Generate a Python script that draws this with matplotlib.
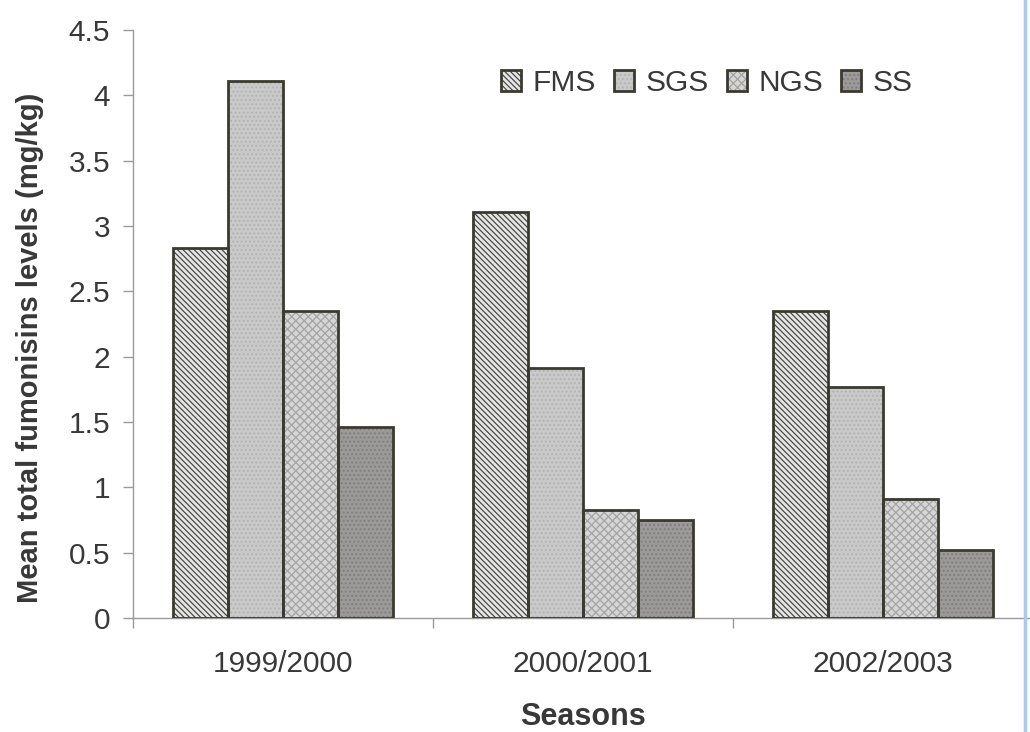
import numpy as np
import matplotlib
matplotlib.use("Agg")
import matplotlib.pyplot as plt
from matplotlib.patches import Patch
from matplotlib.lines import Line2D

plt.rcParams["font.family"] = ["Liberation Sans", "DejaVu Sans"]
plt.rcParams["hatch.linewidth"] = 0.9

seasons = ["1999/2000", "2000/2001", "2002/2003"]
series = ["FMS", "SGS", "NGS", "SS"]
fms = [2.83, 3.11, 2.35]
sgs = [4.11, 1.91, 1.77]
ngs = [2.35, 0.83, 0.91]
ss = [1.46, 0.75, 0.52]
values = [fms, sgs, ngs, ss]

# fill colour, hatch pattern, hatch colour for each series
faces = ["#e6e6e4", "#c9c9c9", "#d6d6d6", "#9b9a98"]
hatches = ["\\\\\\\\\\\\", "....", "xxxx", "...."]
hatch_cols = ["#4a4a48", "#b2b2b2", "#a4a4a4", "#7f7e7c"]
edge = "#3a3a30"
text_col = "#383838"

W, H = 1030, 732
fig = plt.figure(figsize=(W / 100, H / 100), dpi=100)
ax = fig.add_axes([133 / W, 114 / H, 900 / W, 588 / H])

x = np.arange(len(seasons))
w = 0.183
offsets = np.array([-1.5, -0.5, 0.5, 1.5]) * w

handles = []
for vals, off, fc, h, hc in zip(values, offsets, faces, hatches, hatch_cols):
    ax.bar(x + off, vals, w, color=fc, hatch=h, edgecolor=hc, linewidth=0, zorder=2)
    ax.bar(x + off, vals, w, fill=False, edgecolor=edge, linewidth=2.0, zorder=3)
    handles.append((Patch(facecolor=fc, hatch=h, edgecolor=hc, linewidth=0),
                    Patch(fill=False, edgecolor=edge, linewidth=2.0)))

ax.set_xlim(-0.5, 2.5)
ax.set_ylim(0, 4.5)
ax.set_yticks(np.arange(0, 4.51, 0.5))
ax.set_yticklabels(["0", "0.5", "1", "1.5", "2", "2.5", "3", "3.5", "4", "4.5"])

# group boundaries carry the ticks, group centres carry the labels
ax.set_xticks([-0.5, 0.5, 1.5, 2.5])
ax.set_xticklabels([])
ax.set_xticks(x, minor=True)
ax.set_xticklabels(seasons, minor=True)
ax.tick_params(axis="x", which="major", length=7, width=1, color="#9a9a9a", direction="out")
ax.tick_params(axis="x", which="minor", length=0, pad=23, labelsize=21.5, labelcolor=text_col)
ax.tick_params(axis="y", length=7.5, width=1, color="#9a9a9a", direction="out", pad=9,
               labelsize=21.5, labelcolor=text_col)

for s in ["top", "right"]:
    ax.spines[s].set_visible(False)
for s in ["left", "bottom"]:
    ax.spines[s].set_color("#9a9a9a")
    ax.spines[s].set_linewidth(1.0)

fig.text(30 / W, 1 - 348 / H, "Mean total fumonisins levels (mg/kg)", rotation=90,
         ha="center", va="center", fontsize=21, fontweight="bold", color=text_col)
fig.text(583 / W, 1 - 725 / H, "Seasons", ha="center", va="baseline",
         fontsize=22, fontweight="bold", color=text_col)

leg = fig.legend(handles, series, loc="center left", bbox_to_anchor=(501 / W, 1 - 83 / H),
                 ncol=4, frameon=False, fontsize=21.5, handlelength=0.68, handleheight=0.68,
                 handletextpad=0.38, columnspacing=0.6, borderpad=0, borderaxespad=0)
for t in leg.get_texts():
    t.set_color(text_col)

# page edge line at the right margin
fig.add_artist(Line2D([1025 / W, 1025 / W], [0, 1], color="#a9cbe6", linewidth=2.5))

fig.savefig("out.png", dpi=100)
